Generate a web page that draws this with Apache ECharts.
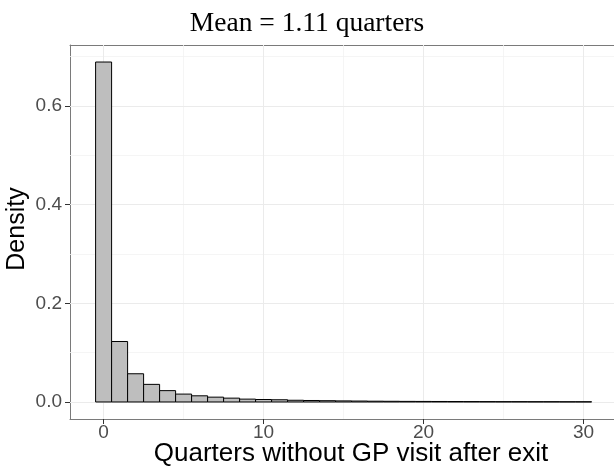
<!DOCTYPE html>
<html>
<head>
<meta charset="utf-8">
<script src="https://cdn.jsdelivr.net/npm/echarts@6/dist/echarts.min.js"></script>
<style>
  html, body { margin: 0; padding: 0; background: #fff; }
  #chart { width: 614px; height: 471px; }
</style>
</head>
<body>
<div id="chart"></div>
<script>
// quarters without GP visit (bin centres) and density per bin
const quarters = [0, 1, 2, 3, 4, 5, 6, 7, 8, 9, 10, 11, 12, 13, 14, 15,
  16, 17, 18, 19, 20, 21, 22, 23, 24, 25, 26, 27, 28, 29, 30];
const density = [0.689, 0.1226, 0.0572, 0.0357, 0.0230, 0.0160, 0.0125, 0.0098,
  0.0078, 0.0058, 0.0050, 0.0045, 0.0035, 0.0030, 0.0026, 0.0022, 0.0019,
  0.0016, 0.0014, 0.0012, 0.0011, 0.0010, 0.0009, 0.0008, 0.0007, 0.0006,
  0.0006, 0.0005, 0.0005, 0.0004, 0.0004];

const xMajor = [0, 10, 20, 30];
const xMinor = [5, 15, 25];
const yMajor = [0, 0.2, 0.4, 0.6];
const yMinor = [0.1, 0.3, 0.5, 0.7];

const chart = echarts.init(document.getElementById('chart'));

const sans = '"Liberation Sans", Arial, sans-serif';
const border = { show: true, onZero: false, lineStyle: { color: '#7a7a7a', width: 1 } };

function gridLines(axis, vals, color, width) {
  return vals.map(v => ({ [axis]: v, lineStyle: { color: color, width: width, type: 'solid' } }));
}

const option = {
  animation: false,
  grid: { left: 70, top: 45, right: 0, bottom: 52 },
  xAxis: [
    {
      type: 'value', min: -2.1, max: 31.9, position: 'bottom',
      splitLine: { show: false },
      axisLine: border,
      axisTick: { show: true, length: 5, lineStyle: { color: '#333' }, customValues: xMajor },
      axisLabel: { color: '#4d4d4d', fontSize: 19, fontFamily: sans, margin: 4, customValues: xMajor }
    },
    {
      // top edge of the panel
      type: 'value', min: -2.1, max: 31.9, position: 'top',
      splitLine: { show: false }, axisLine: border,
      axisTick: { show: false }, axisLabel: { show: false }
    }
  ],
  yAxis: {
    type: 'value', min: -0.0345, max: 0.7235,
    splitLine: { show: false },
    axisLine: border,
    axisTick: { show: true, length: 5, lineStyle: { color: '#333' }, customValues: yMajor },
    axisLabel: {
      color: '#4d4d4d', fontSize: 19, fontFamily: sans, margin: 8,
      customValues: yMajor, formatter: v => v.toFixed(1)
    }
  },
  graphic: [
    { type: 'text', x: 307, y: 24, style: { text: 'Mean = 1.11 quarters', font: '27.5px "Liberation Serif", serif', fill: '#000', textAlign: 'center', textVerticalAlign: 'middle' } },
    { type: 'text', x: 351, y: 454, style: { text: 'Quarters without GP visit after exit', font: '26px ' + sans, fill: '#000', textAlign: 'center', textVerticalAlign: 'middle' } },
    { type: 'text', x: 17, y: 229, rotation: Math.PI / 2, style: { text: 'Density', font: '25px ' + sans, fill: '#000', textAlign: 'center', textVerticalAlign: 'middle' } }
  ],
  series: [
    {
      type: 'line', data: [], z: 1, silent: true,
      markLine: {
        silent: true, symbol: 'none', label: { show: false }, animation: false,
        data: [].concat(
          gridLines('xAxis', xMinor, '#f2f2f2', 0.8),
          gridLines('yAxis', yMinor, '#f2f2f2', 0.8),
          gridLines('xAxis', xMajor, '#ebebeb', 1),
          gridLines('yAxis', yMajor, '#ebebeb', 1)
        )
      }
    },
    {
      type: 'custom', z: 5,
      data: quarters.map((q, i) => [q, density[i]]),
      renderItem: function (params, api) {
        const x = api.value(0), y = api.value(1);
        const p0 = api.coord([x - 0.5, y]);
        const p1 = api.coord([x + 0.5, 0]);
        return {
          type: 'rect',
          shape: { x: p0[0], y: p0[1], width: p1[0] - p0[0], height: p1[1] - p0[1] },
          style: { fill: '#bebebe', stroke: '#000', lineWidth: 1 }
        };
      }
    }
  ]
};

chart.setOption(option);
</script>
</body>
</html>
